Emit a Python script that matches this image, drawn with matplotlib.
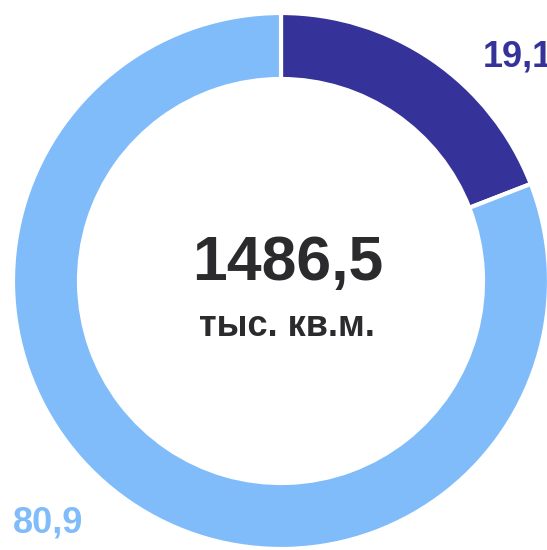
import matplotlib
matplotlib.use("Agg")
import matplotlib.pyplot as plt

categories = ["A", "B"]
values = [19.1, 80.9]
value_labels = ["19,1", "80,9"]
colors = ["#35339a", "#80bcfa"]
total_text = "1486,5"
unit_text = "тыс. кв.м."

plt.rcParams['font.family'] = ['Liberation Sans', 'DejaVu Sans']

W, H = 547, 550
fig = plt.figure(figsize=(W / 100, H / 100), dpi=100)
ax = fig.add_axes([0, 0, 1, 1])

cx, cy = 281, H - 281
ax.pie(values, radius=268, center=(cx, cy), startangle=90, counterclock=False,
       colors=colors, frame=True,
       wedgeprops=dict(width=66, edgecolor="white", linewidth=3))
ax.set_xlim(0, W)
ax.set_ylim(0, H)
ax.set_aspect("equal")
ax.axis("off")

ax.text(288, H - 264, total_text, ha="center", va="center", fontsize=45,
        fontweight="bold", color="#2b2b2e")
ax.text(287, H - 327, unit_text, ha="center", va="center", fontsize=26,
        fontweight="bold", color="#2b2b2e")

ax.text(483, H - 57, value_labels[0], ha="left", va="center", fontsize=26,
        fontweight="bold", color=colors[0])
ax.text(13, H - 523, value_labels[1], ha="left", va="center", fontsize=26,
        fontweight="bold", color=colors[1])

fig.savefig("out.png", dpi=100, facecolor="white")
